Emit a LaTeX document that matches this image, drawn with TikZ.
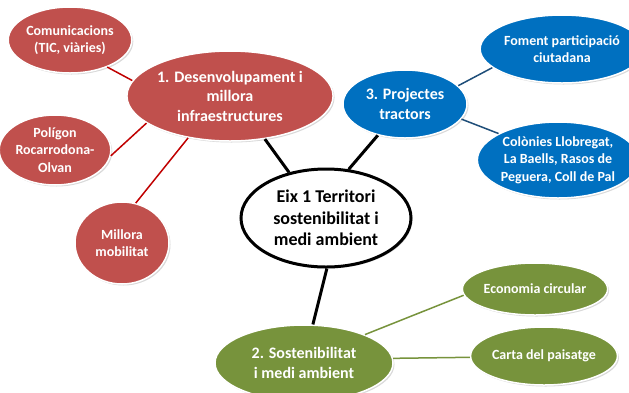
\documentclass[tikz,border=0pt]{standalone}
\usepackage{fontspec}
\setmainfont{Carlito}
\usetikzlibrary{shapes.geometric,shadows}
\definecolor{redfill}{HTML}{C0504D}
\definecolor{redline}{HTML}{C00000}
\definecolor{bluefill}{HTML}{0070C0}
\definecolor{blueline}{HTML}{1F4E79}
\definecolor{greenfill}{HTML}{77933C}
\definecolor{greenline}{HTML}{77933C}
\tikzset{
  bub/.style={ellipse, draw=white, line width=1.5pt, inner sep=0pt, align=center,
    text=white, font=\bfseries\fontsize{14}{17.5}\selectfont,
    drop shadow={shadow xshift=1.5pt, shadow yshift=-1.5pt, opacity=0.3}},
  big/.style={font=\bfseries\fontsize{16}{19.5}\selectfont},
  redb/.style={bub, fill=redfill},
  blueb/.style={bub, fill=bluefill},
  greenb/.style={bub, fill=greenfill},
  sz/.style 2 args={minimum width=#1pt, minimum height=#2pt},
  redl/.style={draw=redline, line width=1.5pt},
  bluel/.style={draw=blueline, line width=1.5pt},
  greenl/.style={draw=greenline, line width=1.5pt},
  blackl/.style={draw=black, line width=3pt},
  centre/.style={ellipse, draw=black, line width=3pt, fill=white, inner sep=0pt,
    align=center, font=\bfseries\fontsize{18}{21.5}\selectfont,
    drop shadow={shadow xshift=1.5pt, shadow yshift=-1.5pt, opacity=0.3}},
}
\begin{document}
\begin{tikzpicture}[x=1pt,y=-1pt]
\useasboundingbox (0,0) rectangle (629,392);
\clip (0,0) rectangle (629,392);
\node[redb, sz={116}{66}] (com) at (70,40) {Comunicacions\\(TIC, viàries)};
\node[redb, big, sz={170}{90}] (des) at (230,96) {1. Desenvolupament i\\millora\\infraestructures};
\node[redb, sz={94}{70}] (pol) at (55,150) {Polígon\\Rocarrodona-\\Olvan};
\node[redb, sz={94}{82}] (mil) at (122,243) {Millora\\mobilitat};
\node[blueb, big, sz={124}{68}] (pro) at (405,104) {3. Projectes\\tractors};
\node[blueb, sz={134}{68}] (fom) at (562,49) {Foment participació\\ciutadana};
\node[blueb, sz={142}{76}] (col) at (558,160) {Colònies Llobregat,\\La Baells, Rasos de\\Peguera, Coll de Pal};
\node[greenb, big, sz={178}{76}] (sos) at (304,363) {2. Sostenibilitat\\i medi ambient};
\node[greenb, sz={130}{52}] (eco) at (535,289) {Economia circular};
\node[greenb, sz={128}{58}] (car) at (544,356) {Carta del paisatge};
\node[centre, minimum width=170pt, minimum height=98pt] (cen) at (326,218)
  {Eix 1 Territori\\sostenibilitat i\\medi ambient};
\draw[redl] (com.-36) -- (des.171);
\draw[redl] (pol.-6) -- (des.198);
\draw[redl] (mil.71) -- (des.225);
\draw[bluel] (pro.19) -- (fom.195);
\draw[bluel] (pro.-15) -- (col.156);
\draw[greenl] (sos.25) -- (eco.185);
\draw[greenl] (sos.3) -- (car.181);
\draw[blackl] (des.-51) -- (cen.129);
\draw[blackl] (pro.229) -- (cen.65);
\draw[blackl] (cen.-89) -- (sos.77);
\end{tikzpicture}
\end{document}
